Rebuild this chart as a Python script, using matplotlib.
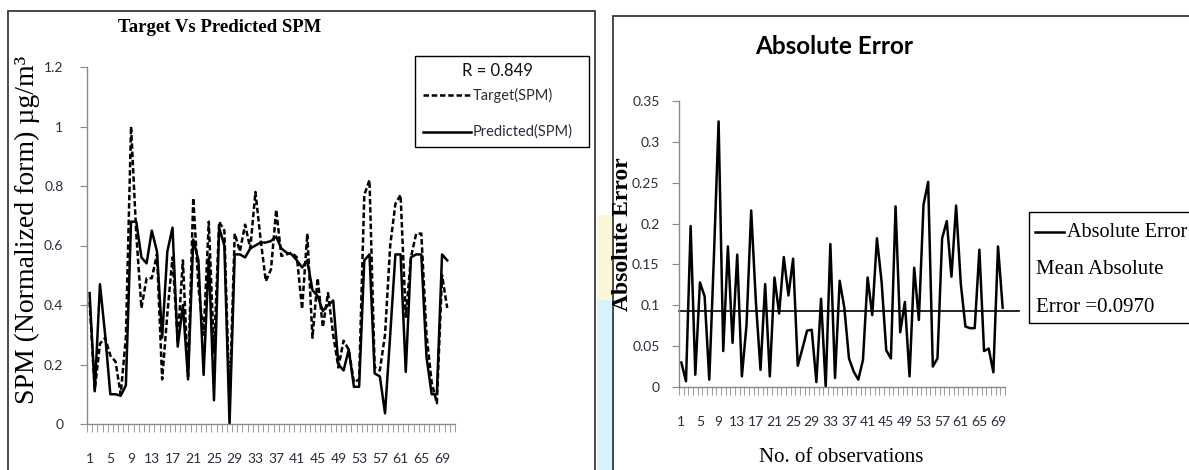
import matplotlib
matplotlib.use("Agg")
import matplotlib.pyplot as plt
from matplotlib.patches import Rectangle
from matplotlib.lines import Line2D
import numpy as np

# values
target_spm = [0.41, 0.115, 0.27, 0.29, 0.23, 0.21, 0.10, 0.29, 1.00, 0.64,
              0.39, 0.49, 0.49, 0.57, 0.15, 0.37, 0.56, 0.28, 0.55, 0.16,
              0.76, 0.46, 0.30, 0.68, 0.24, 0.68, 0.65, 0.07, 0.64, 0.58,
              0.67, 0.59, 0.78, 0.62, 0.48, 0.52, 0.72, 0.565, 0.57, 0.576,
              0.56, 0.387, 0.64, 0.29, 0.49, 0.325, 0.44, 0.30, 0.19, 0.28,
              0.25, 0.14, 0.15, 0.77, 0.82, 0.19, 0.18, 0.30, 0.60, 0.74,
              0.77, 0.36, 0.56, 0.64, 0.64, 0.30, 0.14, 0.07, 0.50, 0.39]
predicted_spm = [0.44, 0.11, 0.47, 0.30, 0.10, 0.10, 0.095, 0.13, 0.68, 0.68,
                 0.56, 0.54, 0.65, 0.58, 0.29, 0.58, 0.66, 0.26, 0.40, 0.15,
                 0.62, 0.55, 0.165, 0.56, 0.08, 0.66, 0.60, 0.0, 0.57, 0.57,
                 0.56, 0.59, 0.60, 0.61, 0.61, 0.615, 0.63, 0.59, 0.576, 0.57,
                 0.55, 0.526, 0.55, 0.45, 0.43, 0.38, 0.40, 0.415, 0.20, 0.18,
                 0.25, 0.125, 0.125, 0.55, 0.57, 0.17, 0.16, 0.036, 0.30, 0.57,
                 0.57, 0.175, 0.56, 0.57, 0.57, 0.225, 0.10, 0.10, 0.57, 0.55]
abs_error = [0.030, 0.007, 0.197, 0.015, 0.128, 0.111, 0.009, 0.160, 0.325, 0.044,
             0.172, 0.054, 0.162, 0.013, 0.076, 0.216, 0.105, 0.021, 0.126, 0.013,
             0.134, 0.090, 0.159, 0.112, 0.157, 0.026, 0.047, 0.069, 0.070, 0.006,
             0.108, 0.000, 0.175, 0.011, 0.130, 0.097, 0.035, 0.019, 0.009, 0.033,
             0.134, 0.088, 0.182, 0.129, 0.045, 0.035, 0.221, 0.067, 0.104, 0.013,
             0.146, 0.082, 0.223, 0.251, 0.025, 0.035, 0.182, 0.203, 0.135, 0.222,
             0.127, 0.074, 0.072, 0.072, 0.168, 0.044, 0.047, 0.018, 0.172, 0.097]
r_value = 0.849
mean_abs_error = 0.0970
mean_line_level = 0.093

spm_ticks = [0, 0.2, 0.4, 0.6, 0.8, 1, 1.2]
err_ticks = [0, 0.05, 0.1, 0.15, 0.2, 0.25, 0.3, 0.35]
obs_labels = list(range(1, 70, 4))

W, H = 1189, 470
fig = plt.figure(figsize=(W / 100, H / 100), dpi=100)
fig.patch.set_facecolor("white")


def fx(px):
    return px / W


def fy(py):
    return 1 - py / H


def box(x0, y0, x1, y1, **kw):
    r = Rectangle((fx(x0), fy(y1)), fx(x1) - fx(x0), fy(y0) - fy(y1),
                  transform=fig.transFigure, **kw)
    fig.add_artist(r)
    return r


# strip of slide background between the two charts
box(597, 215, 612, 300, facecolor="#fbf6d6", edgecolor="none", zorder=-5)
box(597, 300, 612, 480, facecolor="#d6f3fb", edgecolor="none", zorder=-5)

# chart frames
box(8, 11, 595, 480, facecolor="none", edgecolor="#3a3a3a", lw=1.3, clip_on=False)
box(613, 16, 1200, 480, facecolor="none", edgecolor="#3a3a3a", lw=1.3, clip_on=False)

axis_grey = "#8a8a8a"
tick_font = dict(family="Lato", size=10, color="#2b2b3a")


def style_axes(ax, n_cats, yticks):
    ax.set_facecolor("none")
    for s in ["top", "right"]:
        ax.spines[s].set_visible(False)
    for s in ["left", "bottom"]:
        ax.spines[s].set_color(axis_grey)
        ax.spines[s].set_linewidth(1.0)
    ax.set_xlim(0.5, n_cats + 0.5)
    ax.set_xticks(obs_labels)
    ax.set_xticklabels([str(v) for v in obs_labels], fontdict=tick_font)
    ax.set_xticks(np.arange(0.5, n_cats + 1, 1), minor=True)
    ax.tick_params(axis="x", which="major", length=0, pad=21)
    ax.tick_params(axis="x", which="minor", length=6, color=axis_grey, direction="out")
    ax.set_yticks(yticks)
    ax.set_yticklabels([f"{v:g}" for v in yticks], fontdict=tick_font)
    ax.tick_params(axis="y", length=5, color=axis_grey, direction="out", pad=9)


# ---- left chart: target vs predicted ----
obs = np.arange(1, len(target_spm) + 1)
ax1 = fig.add_axes([fx(87), fy(424), fx(455) - fx(87), fy(67) - fy(424)])
ax1.plot(obs, target_spm, color="black", lw=1.8, linestyle=(0, (2.2, 1.1)))
ax1.plot(obs, predicted_spm, color="black", lw=1.8)
style_axes(ax1, 71, spm_ticks)
ax1.set_ylim(0, 1.2)
ax1.tick_params(axis="y", pad=12)

fig.text(fx(220), fy(27), "Target Vs Predicted SPM", ha="center", va="center",
         family="Liberation Serif", weight="bold", size=13.5)
fig.text(fx(27), fy(230), "SPM (Normalized form) \u00b5g/m\u00b3", ha="center", va="center",
         rotation=90, family="Liberation Serif", size=20)

# legend box of the left chart
box(415, 56, 589, 147, facecolor="white", edgecolor="black", lw=1.0, zorder=3)
fig.text(fx(497), fy(71), f"R = {r_value}", ha="center", va="center",
         family="Lato", size=12, color="#111111", zorder=4)
fig.add_artist(Line2D([fx(423), fx(471)], [fy(95), fy(95)], transform=fig.transFigure,
                      color="black", lw=1.8, linestyle=(0, (2.2, 1.1)), zorder=4))
fig.text(fx(473), fy(95), "Target(SPM)", ha="left", va="center",
         family="Lato", size=10.5, color="#2b2b3a", zorder=4)
fig.add_artist(Line2D([fx(423), fx(471)], [fy(132), fy(132)], transform=fig.transFigure,
                      color="black", lw=1.8, zorder=4))
fig.text(fx(473), fy(132), "Predicted(SPM)", ha="left", va="center",
         family="Lato", size=10.5, color="#2b2b3a", zorder=4)

# ---- right chart: absolute error ----
obs2 = np.arange(1, len(abs_error) + 1)
ax2 = fig.add_axes([fx(679), fy(387), fx(1005) - fx(679), fy(101) - fy(387)])
ax2.plot(obs2, abs_error, color="black", lw=1.8)
ax2.plot([0.5, len(abs_error) + 3.5], [mean_line_level, mean_line_level],
         color="black", lw=1.2, clip_on=False)
style_axes(ax2, 70, err_ticks)
ax2.set_ylim(0, 0.35)

fig.text(fx(834), fy(47), "Absolute Error", ha="center", va="center",
         family="Lato", weight="bold", size=17.5)
fig.text(fx(623), fy(234), "Absolute Error", ha="center", va="center", rotation=90,
         family="Liberation Serif", weight="bold", size=17)
fig.text(fx(841), fy(457), "No. of observations", ha="center", va="center",
         family="Liberation Serif", size=15)

# legend box of the right chart
box(1029, 212, 1200, 323, facecolor="white", edgecolor="black", lw=1.0, zorder=3,
    clip_on=False)
fig.add_artist(Line2D([fx(1035), fx(1064)], [fy(232), fy(232)], transform=fig.transFigure,
                      color="black", lw=1.8, zorder=4))
fig.text(fx(1067), fy(232), "Absolute Error", ha="left", va="center",
         family="Liberation Serif", size=14.5, zorder=4)
fig.text(fx(1036), fy(270), "Mean Absolute", ha="left", va="center",
         family="Liberation Serif", size=15, zorder=4)
fig.text(fx(1036), fy(307), f"Error ={mean_abs_error:.4f}", ha="left", va="center",
         family="Liberation Serif", size=15, zorder=4)

fig.savefig("out.png", dpi=100)
